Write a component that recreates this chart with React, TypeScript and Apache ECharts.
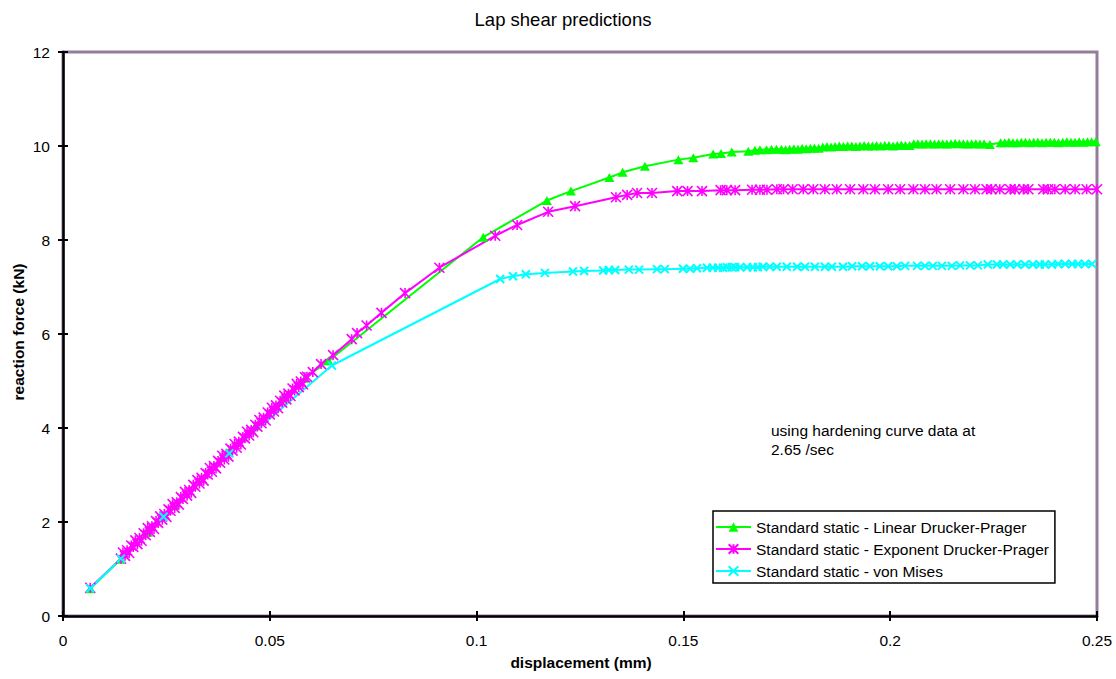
import React, { useEffect, useRef } from "react";
import * as echarts from "echarts";

// Reaction force (kN) against displacement (mm), one list of [x, y] per model.
const linearDruckerPrager: [number, number][] = [
  [0.0066, 0.58], [0.014, 1.21], [0.0205, 1.78], [0.027, 2.35], [0.0335, 2.92],
  [0.04, 3.49], [0.0465, 4.05], [0.053, 4.62], [0.0585, 5.06], [0.0642, 5.43],
  [0.1016, 8.06], [0.117, 8.84], [0.1228, 9.04], [0.1321, 9.33], [0.1353, 9.44],
  [0.1407, 9.57], [0.1488, 9.71], [0.1524, 9.75], [0.1572, 9.83], [0.1591, 9.84],
  [0.1617, 9.87], [0.1657, 9.89], [0.1673, 9.91], [0.1685, 9.92], [0.1701, 9.92],
  [0.1713, 9.93], [0.1725, 9.93],
  [0.1737, 9.93], [0.1747, 9.92], [0.1757, 9.93], [0.1767, 9.94], [0.1777, 9.93],
  [0.1787, 9.95], [0.1797, 9.94], [0.1807, 9.95], [0.1817, 9.96], [0.1827, 9.95],
  [0.1837, 9.98], [0.1847, 9.99], [0.1857, 9.98], [0.1867, 9.99], [0.1877, 10.0],
  [0.1887, 9.99], [0.1897, 10.0], [0.1907, 10.0], [0.1917, 9.99], [0.1927, 10.0],
  [0.1937, 10.01], [0.1947, 10.0], [0.1957, 10.0], [0.1967, 10.01], [0.1977, 10.0],
  [0.1987, 10.01], [0.1997, 10.01], [0.2007, 10.0], [0.2017, 10.01], [0.2027, 10.02],
  [0.2037, 10.01], [0.2047, 10.01],
  [0.2057, 10.05], [0.2067, 10.05], [0.2077, 10.04], [0.2087, 10.05], [0.2097, 10.05],
  [0.2107, 10.04], [0.2117, 10.05], [0.2127, 10.05], [0.2137, 10.04], [0.2147, 10.05],
  [0.2157, 10.06], [0.2167, 10.05], [0.2177, 10.05], [0.2187, 10.04], [0.2197, 10.05],
  [0.2207, 10.05], [0.2217, 10.04], [0.2227, 10.05],
  [0.2241, 10.03],
  [0.2267, 10.07], [0.2277, 10.07], [0.2287, 10.08], [0.2297, 10.07], [0.2307, 10.07],
  [0.2317, 10.08], [0.2327, 10.08], [0.2337, 10.07], [0.2347, 10.08], [0.2357, 10.08],
  [0.2367, 10.07], [0.2377, 10.08], [0.2387, 10.08], [0.2397, 10.08], [0.2407, 10.07],
  [0.2417, 10.08], [0.2427, 10.09], [0.2437, 10.08], [0.2447, 10.08], [0.2457, 10.09],
  [0.2467, 10.08], [0.2477, 10.09], [0.2487, 10.09], [0.2497, 10.09],
];

const exponentDruckerPrager: [number, number][] = [
  [0.0066, 0.6], [0.014, 1.22],
  [0.0145, 1.35], [0.015, 1.28], [0.0155, 1.4], [0.016, 1.34], [0.0165, 1.5],
  [0.017, 1.47], [0.0175, 1.61], [0.018, 1.53], [0.0185, 1.66], [0.019, 1.6],
  [0.0195, 1.76], [0.02, 1.72], [0.0205, 1.87], [0.021, 1.79], [0.0215, 1.91],
  [0.022, 1.85], [0.0225, 2.02], [0.023, 1.98], [0.0235, 2.12], [0.024, 2.05],
  [0.0245, 2.17], [0.025, 2.11], [0.0255, 2.27], [0.026, 2.24], [0.0265, 2.38],
  [0.027, 2.3], [0.0275, 2.42], [0.028, 2.37], [0.0285, 2.53], [0.029, 2.49],
  [0.0295, 2.64], [0.03, 2.56], [0.0305, 2.68], [0.031, 2.62], [0.0315, 2.79],
  [0.032, 2.75], [0.0325, 2.89], [0.033, 2.82], [0.0335, 2.94], [0.034, 2.88],
  [0.0345, 3.04], [0.035, 3.01], [0.0355, 3.15], [0.036, 3.07], [0.0365, 3.19],
  [0.037, 3.14], [0.0375, 3.3], [0.038, 3.26], [0.0385, 3.41], [0.039, 3.33],
  [0.0395, 3.45], [0.04, 3.39], [0.0405, 3.56], [0.041, 3.52], [0.0415, 3.66],
  [0.042, 3.58], [0.0425, 3.71], [0.043, 3.65], [0.0435, 3.81], [0.044, 3.78],
  [0.0445, 3.92], [0.045, 3.84], [0.0455, 3.96], [0.046, 3.91], [0.0465, 4.07],
  [0.047, 4.03], [0.0475, 4.17], [0.048, 4.1], [0.0485, 4.22], [0.049, 4.16],
  [0.0495, 4.33], [0.05, 4.29], [0.0505, 4.43], [0.051, 4.35], [0.0515, 4.48],
  [0.052, 4.42], [0.0525, 4.58], [0.053, 4.54], [0.0535, 4.69], [0.054, 4.61],
  [0.0545, 4.73], [0.055, 4.68], [0.0555, 4.84], [0.056, 4.8], [0.0565, 4.94],
  [0.057, 4.87], [0.0575, 4.99], [0.058, 4.93], [0.0585, 5.08],
  [0.059, 5.09], [0.0604, 5.19], [0.0624, 5.36], [0.0653, 5.55], [0.0698, 5.89],
  [0.0711, 6.02], [0.0734, 6.18], [0.077, 6.45], [0.0827, 6.87], [0.091, 7.41],
  [0.1045, 8.09], [0.1098, 8.32], [0.1173, 8.6], [0.1238, 8.72], [0.1337, 8.91],
  [0.1364, 8.96], [0.1388, 9.0], [0.1424, 9.0], [0.1485, 9.04], [0.151, 9.04],
  [0.1545, 9.04], [0.159, 9.06], [0.1605, 9.06], [0.1625, 9.06], [0.1666, 9.07],
  [0.1685, 9.07], [0.1702, 9.07], [0.1726, 9.08],
  [0.1742, 9.08], [0.1764, 9.08], [0.179, 9.08], [0.1814, 9.08], [0.1842, 9.08],
  [0.1871, 9.08], [0.1903, 9.08], [0.1935, 9.08], [0.1963, 9.08], [0.1995, 9.08],
  [0.2024, 9.08], [0.2056, 9.08], [0.2084, 9.08], [0.2112, 9.08], [0.2145, 9.08],
  [0.2177, 9.08], [0.2205, 9.08], [0.2233, 9.08], [0.2245, 9.08], [0.2265, 9.08],
  [0.229, 9.08], [0.2302, 9.08], [0.2322, 9.08], [0.2334, 9.08], [0.237, 9.08],
  [0.2382, 9.08], [0.2398, 9.08], [0.2423, 9.08], [0.2447, 9.08], [0.2475, 9.08],
  [0.25, 9.08],
];

const vonMises: [number, number][] = [
  [0.0066, 0.59], [0.014, 1.22], [0.0243, 2.11], [0.0402, 3.46], [0.065, 5.33],
  [0.1057, 7.17], [0.1088, 7.23], [0.1119, 7.27], [0.1165, 7.3], [0.1233, 7.33],
  [0.126, 7.34], [0.1306, 7.35], [0.132, 7.36], [0.1335, 7.36], [0.1368, 7.37],
  [0.1393, 7.37], [0.1436, 7.38], [0.1455, 7.38], [0.1499, 7.39], [0.1516, 7.39],
  [0.1533, 7.4], [0.1557, 7.41], [0.1571, 7.41], [0.1584, 7.41], [0.1596, 7.41],
  [0.1605, 7.42], [0.1617, 7.42], [0.1625, 7.42], [0.1637, 7.42], [0.1654, 7.42],
  [0.1668, 7.42], [0.168, 7.42], [0.1692, 7.43], [0.1709, 7.43], [0.1726, 7.43],
  [0.175, 7.43], [0.1775, 7.43], [0.1794, 7.43], [0.1818, 7.43], [0.1842, 7.43],
  [0.1859, 7.43], [0.1886, 7.43], [0.1908, 7.44], [0.1932, 7.44], [0.1951, 7.44],
  [0.1975, 7.44], [0.1995, 7.44], [0.2016, 7.44], [0.2036, 7.45], [0.2065, 7.45],
  [0.2084, 7.45], [0.2103, 7.45], [0.2125, 7.45], [0.2149, 7.45], [0.2169, 7.46],
  [0.2193, 7.46], [0.2212, 7.46], [0.2236, 7.48], [0.2258, 7.48], [0.2273, 7.48],
  [0.229, 7.48], [0.2307, 7.48], [0.2326, 7.48], [0.2345, 7.48], [0.2362, 7.48],
  [0.2374, 7.48], [0.2391, 7.48], [0.2406, 7.49], [0.2423, 7.49], [0.244, 7.49],
  [0.2454, 7.49], [0.2471, 7.49], [0.2488, 7.49],
];

const seriesNames = [
  "Standard static - Linear Drucker-Prager",
  "Standard static - Exponent Drucker-Prager",
  "Standard static - von Mises",
];

const chartTitle = "Lap shear predictions";
const xAxisTitle = "displacement (mm)";
const yAxisTitle = "reaction force (kN)";
const noteLines = ["using hardening curve data at", "2.65 /sec"];

const FONT = '"Liberation Sans", Arial, Helvetica, sans-serif';
const FS = 15.5;

const ASTERISK = "path://M0,0L10,10M10,0L0,10M5,0L5,10";
const CROSS = "path://M0,0L10,10M10,0L0,10";

export default function App() {
  const ref = useRef<HTMLDivElement>(null);

  useEffect(() => {
    document.body.style.margin = "0";
    const chart = echarts.init(ref.current!, undefined, { renderer: "svg" });

    const axisCommon = {
      type: "value" as const,
      splitLine: { show: false },
      axisLine: { show: true, onZero: false, lineStyle: { color: "#000", width: 2.5 } },
      axisTick: { show: true, inside: false, length: 5, lineStyle: { color: "#000", width: 2 } },
    };
    const insideTicks = {
      type: "value" as const,
      splitLine: { show: false },
      axisLine: { show: false },
      axisLabel: { show: false },
      axisTick: { show: true, inside: true, length: 5, lineStyle: { color: "#000", width: 2 } },
    };

    chart.setOption({
      animation: false,
      backgroundColor: "#fff",
      textStyle: { fontFamily: FONT },
      grid: {
        left: 63,
        right: 19,
        top: 52,
        bottom: 63,
        show: true,
        borderColor: "#937d9a",
        borderWidth: 3,
        backgroundColor: "transparent",
      },
      xAxis: [
        {
          ...axisCommon,
          position: "bottom",
          min: 0,
          max: 0.25,
          interval: 0.05,
          axisLabel: {
            color: "#000",
            fontSize: FS,
            fontFamily: FONT,
            margin: 16,
            formatter: (v: number) => String(+v.toFixed(2)),
          },
        },
        { ...insideTicks, position: "bottom", min: 0, max: 0.25, interval: 0.05 },
      ],
      yAxis: [
        {
          ...axisCommon,
          position: "left",
          min: 0,
          max: 12,
          interval: 2,
          axisLabel: { color: "#000", fontSize: FS, fontFamily: FONT, margin: 13 },
        },
        { ...insideTicks, position: "left", min: 0, max: 12, interval: 2 },
      ],
      legend: {
        show: true,
        orient: "vertical",
        left: 713,
        top: 511,
        padding: [8, 6, 4, 2],
        itemGap: 6,
        itemWidth: 35,
        itemHeight: 12,
        borderColor: "#000",
        borderWidth: 1.5,
        backgroundColor: "#fff",
        textStyle: { color: "#000", fontSize: FS, fontFamily: FONT },
        selectedMode: false,
        data: seriesNames,
      },
      graphic: [
        {
          type: "text",
          x: 563,
          y: 19,
          style: {
            text: chartTitle,
            fontSize: 18.5,
            fontFamily: FONT,
            fill: "#000",
            textAlign: "center",
            textVerticalAlign: "middle",
          },
        },
        {
          type: "text",
          x: 581,
          y: 662,
          style: {
            text: xAxisTitle,
            fontSize: FS,
            fontWeight: "bold",
            fontFamily: FONT,
            fill: "#000",
            textAlign: "center",
            textVerticalAlign: "middle",
          },
        },
        {
          type: "text",
          x: 18,
          y: 332,
          rotation: Math.PI / 2,
          style: {
            text: yAxisTitle,
            fontSize: FS,
            fontWeight: "bold",
            fontFamily: FONT,
            fill: "#000",
            textAlign: "center",
            textVerticalAlign: "middle",
          },
        },
        ...noteLines.map((t, i) => ({
          type: "text",
          x: 771,
          y: 430 + i * 19.5,
          style: {
            text: t,
            fontSize: FS,
            fontFamily: FONT,
            fill: "#000",
            textAlign: "left",
            textVerticalAlign: "middle",
          },
        })),
      ],
      series: [
        {
          name: seriesNames[0],
          type: "line",
          data: linearDruckerPrager,
          showAllSymbol: true,
          symbol: "triangle",
          symbolSize: [10, 9],
          lineStyle: { color: "#00ff00", width: 2 },
          itemStyle: { color: "#00ff00" },
          silent: true,
        },
        {
          name: seriesNames[1],
          type: "line",
          data: exponentDruckerPrager,
          showAllSymbol: true,
          symbol: ASTERISK,
          symbolSize: 10,
          lineStyle: { color: "#ff00ff", width: 2 },
          itemStyle: { color: "#ff00ff", borderColor: "#ff00ff", borderWidth: 1.6 },
          silent: true,
        },
        {
          name: seriesNames[2],
          type: "line",
          data: vonMises,
          showAllSymbol: true,
          symbol: CROSS,
          symbolSize: 8,
          lineStyle: { color: "#00ffff", width: 2 },
          itemStyle: { color: "#00ffff", borderColor: "#00ffff", borderWidth: 2 },
          silent: true,
        },
      ],
    });

    return () => chart.dispose();
  }, []);

  return <div ref={ref} style={{ width: 1116, height: 679 }} />;
}
